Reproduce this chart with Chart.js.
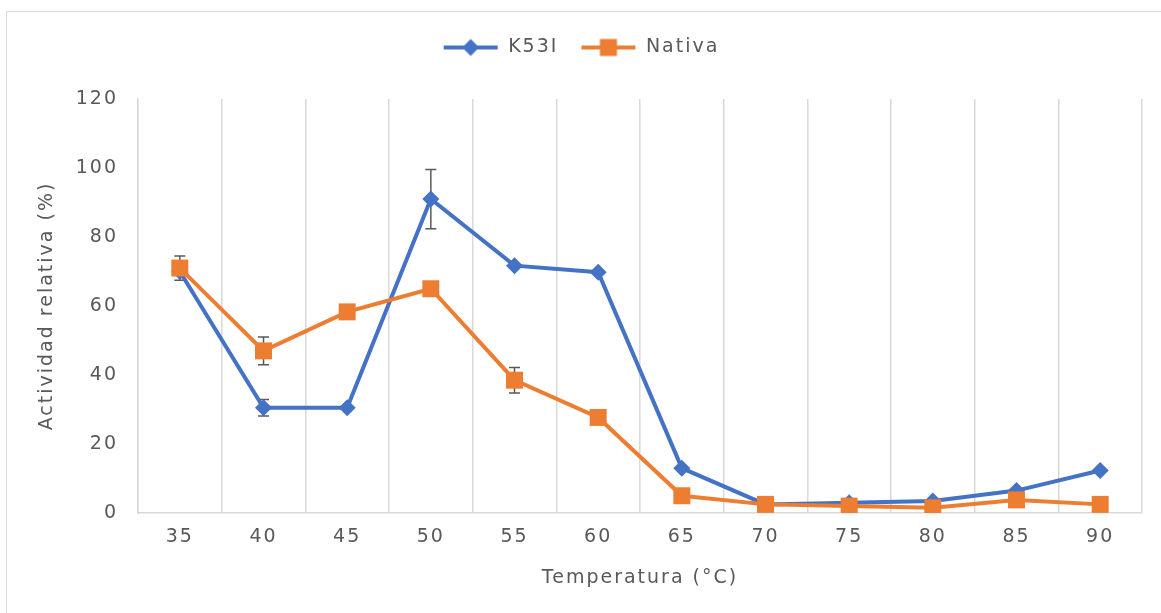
<!DOCTYPE html>
<html>
<head>
<meta charset="utf-8">
<style>
  body { margin: 0; background: #fff; }
  #frame { position: absolute; left: 6px; top: 11px; width: 1160px; height: 610px; border: 1px solid #d9d9d9; }
  #wrap { position: absolute; left: 0; top: 0; width: 1161px; height: 613px; }
</style>
</head>
<body>
<div id="frame"></div>
<div id="wrap"><canvas id="chart"></canvas></div>

<script src="https://cdn.jsdelivr.net/npm/chart.js"></script>

<script>
  const temps = ['35', '40', '45', '50', '55', '60', '65', '70', '75', '80', '85', '90']
  const k53i = [70, 30.5, 30.5, 91, 71.7, 69.8, 13, 2.5, 3, 3.5, 6.5, 12.3]
  const k53iErr = [0, 2.4, 0, 8.6, 0, 0, 0, 0, 0, 0, 0, 0]
  const nativa = [71, 47, 58.3, 65, 38.5, 27.7, 5, 2.5, 2, 1.5, 3.8, 2.5]
  const nativaErr = [3.5, 4, 0, 0, 3.7, 0, 0, 0, 0, 0, 0, 0]
  const yTicks = [0, 20, 40, 60, 80, 100, 120]

  const BLUE = '#4472C4'
  const ORANGE = '#ED7D31'
  const GREY = '#595959'
  const FONT = '"DejaVu Sans", sans-serif'
  const SPACING = '2px'

  // legend swatch: a short line with the marker on it
  function swatch(color, shape) {
    const c = document.createElement('canvas')
    c.width = 56
    c.height = 20
    const g = c.getContext('2d')
    g.strokeStyle = color
    g.lineWidth = 4
    g.beginPath()
    g.moveTo(1, 10)
    g.lineTo(55, 10)
    g.stroke()
    g.fillStyle = color
    g.beginPath()
    if (shape === 'diamond') {
      g.moveTo(28, 1.5); g.lineTo(36.5, 10); g.lineTo(28, 18.5); g.lineTo(19.5, 10)
    } else {
      g.rect(19.5, 1.5, 17, 17)
    }
    g.closePath()
    g.fill()
    return c
  }

  // wider letter spacing, like the original font
  const spacing = {
    id: 'spacing',
    beforeLayout(chart) {
      chart.ctx.letterSpacing = SPACING
      // leave room between the legend and the plot
      const lg = chart.legend
      if (lg && !lg._patched) {
        const fit = lg.fit
        lg.fit = function () { fit.call(this); this.height += 32 }
        lg._patched = true
      }
    },
    beforeDraw(chart) { chart.ctx.letterSpacing = SPACING }
  }

  const errorBars = {
    id: 'errorBars',
    beforeDatasetsDraw(chart) {
      const ctx = chart.ctx
      const y = chart.scales.y
      ctx.save()
      ctx.strokeStyle = GREY
      ctx.lineWidth = 1.5
      chart.data.datasets.forEach((ds, di) => {
        const meta = chart.getDatasetMeta(di)
        ds.errors.forEach((e, i) => {
          if (!e) return
          const x = meta.data[i].x
          const top = y.getPixelForValue(ds.data[i] + e)
          const bot = y.getPixelForValue(ds.data[i] - e)
          ctx.beginPath()
          ctx.moveTo(x, top); ctx.lineTo(x, bot)
          ctx.moveTo(x - 5.5, top); ctx.lineTo(x + 5.5, top)
          ctx.moveTo(x - 5.5, bot); ctx.lineTo(x + 5.5, bot)
          ctx.stroke()
        })
      })
      ctx.restore()
    }
  }

  new Chart(document.getElementById('chart'), {
    type: 'line',
    plugins: [spacing, errorBars],
    data: {
      labels: temps,
      datasets: [
        {
          label: 'K53I',
          data: k53i,
          errors: k53iErr,
          borderColor: BLUE,
          backgroundColor: BLUE,
          borderWidth: 4,
          pointStyle: 'rectRot',
          pointRadius: 8.5,
          pointHoverRadius: 8.5,
          pointBorderWidth: 0,
          order: 1,
          tension: 0
        },
        {
          label: 'Nativa',
          data: nativa,
          errors: nativaErr,
          borderColor: ORANGE,
          backgroundColor: ORANGE,
          borderWidth: 4,
          pointStyle: 'rect',
          pointRadius: 12,
          pointHoverRadius: 12,
          pointBorderWidth: 0,
          order: 0,
          tension: 0
        }
      ]
    },
    options: {
      responsive: true,
      maintainAspectRatio: false,
      animation: false,
      events: [],
      layout: { padding: { left: 20, right: 19, top: 16, bottom: 24 } },
      plugins: {
        tooltip: { enabled: false },
        legend: {
          position: 'top',
          labels: {
            usePointStyle: true,
            pointStyleWidth: 56,
            padding: 22,
            color: GREY,
            font: { family: FONT, size: 19 },
            sort: (a, b) => a.datasetIndex - b.datasetIndex,
            generateLabels(chart) {
              const shapes = ['diamond', 'square']
              return chart.data.datasets.map((ds, i) => ({
                text: ds.label,
                datasetIndex: i,
                fontColor: GREY,
                pointStyle: swatch(ds.borderColor, shapes[i]),
                lineWidth: 0,
                hidden: false
              }))
            }
          }
        }
      },
      scales: {
        x: {
          offset: true,
          grid: { display: true, offset: true, color: '#d9d9d9', lineWidth: 1.5, drawTicks: false },
          border: { display: true, color: '#d9d9d9', width: 1.5 },
          ticks: { color: GREY, font: { family: FONT, size: 19 }, padding: 13 },
          title: { display: true, text: 'Temperatura (°C)', color: GREY, font: { family: FONT, size: 19 }, padding: { top: 6, bottom: 0 } },
          afterFit(scale) { scale.height = 76 }
        },
        y: {
          min: 0,
          max: 120,
          afterBuildTicks(scale) { scale.ticks = yTicks.map(v => ({ value: v })) },
          grid: { display: false, drawTicks: false },
          border: { display: true, color: '#d9d9d9', width: 1.5 },
          ticks: { color: GREY, font: { family: FONT, size: 19 }, padding: 20 },
          title: { display: true, text: 'Actividad relativa (%)', color: GREY, font: { family: FONT, size: 19 }, padding: { top: 16, bottom: 0 } },
          afterFit(scale) { scale.width = 118 }
        }
      }
    }
  })
</script>
</body>
</html>
